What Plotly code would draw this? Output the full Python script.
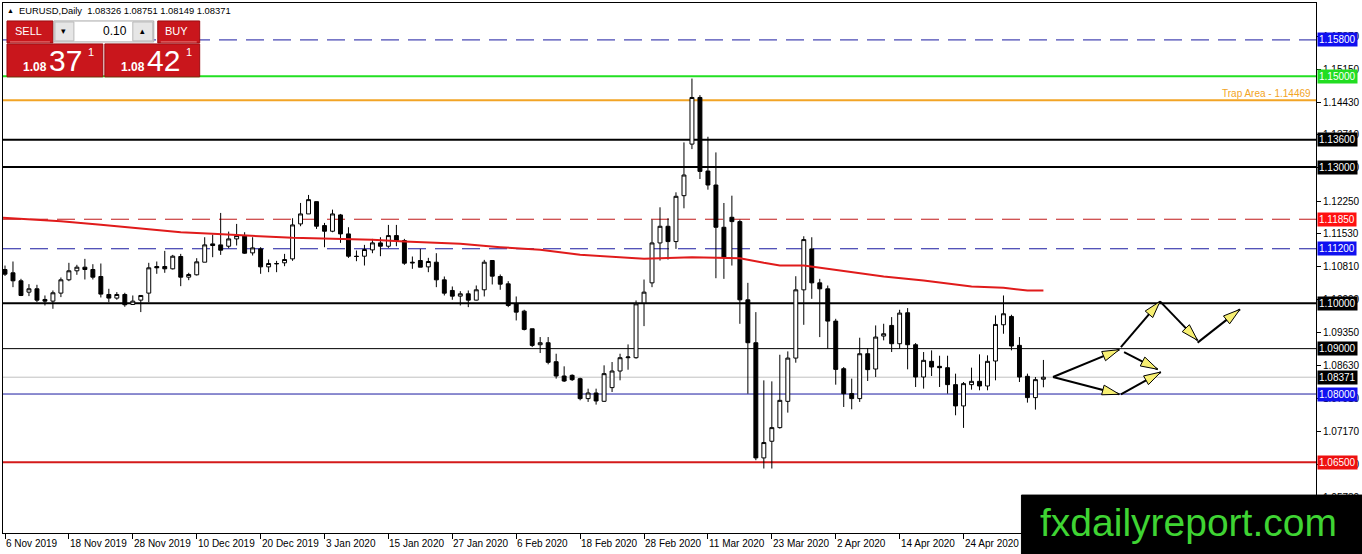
import math
import plotly.graph_objects as go

# EURUSD daily candles, 6 Nov 2019 .. 8 May 2020
open_ = [
    1.10743, 1.10670, 1.10494, 1.10244, 1.10318, 1.10083, 1.10046, 1.10223, 1.10516, 1.10714,
    1.10794, 1.10743, 1.10589, 1.10193, 1.10113, 1.10193, 1.09973, 1.10068, 1.10223, 1.10809,
    1.10809, 1.10758, 1.11029, 1.10574, 1.10626, 1.10904, 1.11307, 1.11285, 1.11256, 1.11417,
    1.11490, 1.11109, 1.11197, 1.10801, 1.10875, 1.10890, 1.10977, 1.11747, 1.11967, 1.12238,
    1.11710, 1.11586, 1.11945, 1.11527, 1.11036, 1.11036, 1.11175, 1.11329, 1.11256, 1.11490,
    1.11381, 1.10904, 1.10941, 1.10801, 1.10904, 1.10515, 1.10281, 1.10156, 1.10208, 1.10068,
    1.10296, 1.10941, 1.10589, 1.10427, 1.09988, 1.09826, 1.09438, 1.09086, 1.09130, 1.08712,
    1.08397, 1.08412, 1.08338, 1.07899, 1.08023, 1.07840, 1.08141, 1.08507, 1.08800, 1.08800,
    1.10009, 1.10449, 1.11328, 1.11695, 1.11358, 1.12369, 1.13505, 1.14532, 1.12912, 1.12604,
    1.11673, 1.11893, 1.11798, 1.10075, 1.09130, 1.06593, 1.06960, 1.07260, 1.07839, 1.08792,
    1.10295, 1.11196, 1.10449, 1.10317, 1.09606, 1.08558, 1.08009, 1.07899, 1.08888, 1.08551,
    1.09277, 1.09511, 1.09108, 1.09790, 1.09086, 1.08375, 1.08720, 1.08610, 1.08580, 1.08207,
    1.07738, 1.08207, 1.08280, 1.08177, 1.08727, 1.09526, 1.09709, 1.09072, 1.08390, 1.07921,
    1.08326]
high = [
    1.10830, 1.10919, 1.10538, 1.10420, 1.10406, 1.10171, 1.10281, 1.10567, 1.10890, 1.10846,
    1.10977, 1.10860, 1.10875, 1.10318, 1.10245, 1.10230, 1.10171, 1.10171, 1.10890, 1.10919,
    1.11153, 1.11065, 1.11087, 1.10670, 1.10992, 1.11454, 1.11512, 1.11989, 1.11578, 1.11747,
    1.11564, 1.11454, 1.11234, 1.10963, 1.10933, 1.11087, 1.11872, 1.12209, 1.12385, 1.12238,
    1.11769, 1.12062, 1.11967, 1.11674, 1.11161, 1.11285, 1.11417, 1.11454, 1.11725, 1.11725,
    1.11417, 1.11029, 1.11197, 1.11000, 1.11102, 1.10589, 1.10369, 1.10266, 1.10281, 1.10391,
    1.10955, 1.10941, 1.10633, 1.10486, 1.10149, 1.09856, 1.09438, 1.09255, 1.09255, 1.08888,
    1.08610, 1.08434, 1.08360, 1.08118, 1.08118, 1.08632, 1.08705, 1.08888, 1.09093, 1.10061,
    1.10522, 1.11841, 1.12113, 1.11871, 1.12443, 1.13542, 1.14949, 1.14583, 1.13667, 1.13322,
    1.12208, 1.12369, 1.11842, 1.10449, 1.09804, 1.08301, 1.08279, 1.08865, 1.08939, 1.10595,
    1.11475, 1.11453, 1.10537, 1.10390, 1.09657, 1.08594, 1.08339, 1.09240, 1.09013, 1.09511,
    1.09548, 1.09695, 1.09856, 1.09893, 1.09123, 1.08925, 1.08962, 1.08844, 1.08844, 1.08449,
    1.08265, 1.08581, 1.08874, 1.08852, 1.09731, 1.10171, 1.09746, 1.09255, 1.08449, 1.08375,
    1.08751]
low = [
    1.10600, 1.10354, 1.10157, 1.10157, 1.10025, 1.09951, 1.09878, 1.10135, 1.10486, 1.10626,
    1.10523, 1.10523, 1.10127, 1.10025, 1.10076, 1.09922, 1.09966, 1.09805, 1.10025, 1.10648,
    1.10670, 1.10743, 1.10376, 1.10508, 1.10611, 1.10904, 1.11014, 1.11065, 1.11212, 1.11271,
    1.11087, 1.11051, 1.10648, 1.10684, 1.10684, 1.10816, 1.10934, 1.11696, 1.11967, 1.11637,
    1.11234, 1.11564, 1.11329, 1.10999, 1.10926, 1.10831, 1.11102, 1.11036, 1.11219, 1.11256,
    1.10846, 1.10758, 1.10794, 1.10684, 1.10354, 1.10171, 1.10076, 1.09951, 1.09914, 1.10061,
    1.10149, 1.10413, 1.10296, 1.09914, 1.09621, 1.09401, 1.09035, 1.08903, 1.08654, 1.08339,
    1.08265, 1.08287, 1.07862, 1.07826, 1.07767, 1.07825, 1.08045, 1.08302, 1.08536, 1.08778,
    1.09496, 1.10354, 1.10940, 1.10962, 1.11197, 1.12091, 1.13395, 1.12736, 1.12501, 1.10551,
    1.10537, 1.10830, 1.09547, 1.08008, 1.06542, 1.06359, 1.06359, 1.07238, 1.07590, 1.08690,
    1.09525, 1.10097, 1.09254, 1.08998, 1.08206, 1.07715, 1.07664, 1.07826, 1.08287, 1.08375,
    1.09182, 1.08925, 1.08998, 1.08544, 1.08155, 1.08119, 1.08397, 1.08155, 1.08009, 1.07532,
    1.07254, 1.08097, 1.08082, 1.08082, 1.08302, 1.09328, 1.08962, 1.08265, 1.07811, 1.07657,
    1.08149]
close = [
    1.10640, 1.10494, 1.10171, 1.10318, 1.10068, 1.10046, 1.10230, 1.10516, 1.10714, 1.10794,
    1.10743, 1.10574, 1.10201, 1.10113, 1.10193, 1.09966, 1.10046, 1.10171, 1.10780, 1.10780,
    1.10758, 1.11036, 1.10574, 1.10633, 1.10912, 1.11285, 1.11271, 1.11168, 1.11417, 1.11490,
    1.11102, 1.11219, 1.10801, 1.10875, 1.10870, 1.10963, 1.11725, 1.11967, 1.12282, 1.11696,
    1.11586, 1.11967, 1.11527, 1.11036, 1.11029, 1.11183, 1.11329, 1.11256, 1.11490, 1.11381,
    1.10882, 1.10890, 1.10794, 1.10919, 1.10515, 1.10222, 1.10156, 1.10208, 1.10068, 1.10296,
    1.10904, 1.10596, 1.10420, 1.09951, 1.09804, 1.09423, 1.09071, 1.09130, 1.08698, 1.08397,
    1.08287, 1.08316, 1.07899, 1.08023, 1.07847, 1.08449, 1.08507, 1.08800, 1.08815, 1.09987,
    1.10244, 1.11328, 1.11695, 1.11358, 1.12355, 1.12824, 1.14532, 1.12904, 1.12604, 1.11673,
    1.11013, 1.11798, 1.10075, 1.09130, 1.06593, 1.06931, 1.07260, 1.07861, 1.08792, 1.10295,
    1.11402, 1.10449, 1.10317, 1.09606, 1.08543, 1.08008, 1.07899, 1.08888, 1.08537, 1.09255,
    1.09328, 1.09108, 1.09783, 1.09086, 1.08375, 1.08742, 1.08595, 1.08580, 1.08207, 1.07738,
    1.08229, 1.08280, 1.08177, 1.08720, 1.09533, 1.09768, 1.09057, 1.08375, 1.07921, 1.08317,
    1.08371]
bars = list(range(len(open_)))

# moving average, sampled along the red line (bar index, price)
ma_idx = [-0.5, 7, 12, 17, 22, 26, 32, 36, 41, 46, 50, 53, 57, 62, 67, 72, 76, 80,
          86, 92, 95, 97, 100, 103, 106, 110, 115, 118, 121, 125, 128, 130]
ma_val = [1.11886, 1.11805, 1.11726, 1.11652, 1.11564, 1.11528, 1.11476, 1.11440,
          1.11418, 1.11396, 1.11359, 1.11343, 1.11308, 1.11234, 1.11176, 1.11066,
          1.11014, 1.10978, 1.11014, 1.10992, 1.10890, 1.10831, 1.10831, 1.10758,
          1.10699, 1.10589, 1.10501, 1.10428, 1.10369, 1.10340, 1.10281, 1.10281]

# x axis labels every 8 bars
tick_idx = [0, 8, 16, 24, 32, 40, 48, 56, 64, 72, 80, 88, 96, 104, 112, 120]
tick_text = ["6 Nov 2019", "18 Nov 2019", "28 Nov 2019", "10 Dec 2019", "20 Dec 2019",
             "3 Jan 2020", "15 Jan 2020", "27 Jan 2020", "6 Feb 2020", "18 Feb 2020",
             "28 Feb 2020", "11 Mar 2020", "23 Mar 2020", "2 Apr 2020", "14 Apr 2020",
             "24 Apr 2020"]

# price scale ticks
price_ticks = [1.15870, 1.15150, 1.14430, 1.13710, 1.12990, 1.12250, 1.11530, 1.10810,
               1.10090, 1.09350, 1.08630, 1.07910, 1.07170, 1.06450, 1.05730]

# horizontal levels: price, line colour, width, dash, label background
levels = [
    (1.15800, "#1a1aa0", 1, "18px,9px", "#1010f0"),
    (1.15000, "#22e022", 2, "solid", "#22dd22"),
    (1.14469, "#f2a425", 2, "solid", None),
    (1.13600, "#000000", 2, "solid", "#000000"),
    (1.13000, "#000000", 2, "solid", "#000000"),
    (1.11850, "#c01818", 1, "18px,9px", "#ff1010"),
    (1.11200, "#1a1aa0", 1, "18px,9px", "#1010f0"),
    (1.10000, "#000000", 2, "solid", "#000000"),
    (1.09000, "#000000", 1, "solid", "#000000"),
    (1.08371, "#c0c0c0", 1, "solid", "#000000"),
    (1.08000, "#1a1aa0", 1, "solid", "#1010f0"),
    (1.06500, "#d41a1a", 2, "solid", "#ee1010"),
]

# scenario arrows drawn on the chart: (bar0, price0, bar1, price1)
arrows = [
    (131.2, 1.08375, 139.5, 1.08978),
    (131.2, 1.08375, 139.5, 1.07995),
    (139.7, 1.09035, 144.6, 1.10040),
    (140.1, 1.08925, 144.3, 1.08545),
    (139.7, 1.07995, 144.7, 1.08485),
    (144.6, 1.10040, 149.3, 1.09182),
    (149.3, 1.09132, 154.6, 1.09864),
]

W, H = 1362, 554
L, R, T, B = 2, 45, 2, 21
YMIN, YMAX = 1.04939, 1.16613
XMIN, XMAX = -0.25, 164.125
PXX = (W - L - R) / (XMAX - XMIN)
PXY = (H - T - B) / (YMAX - YMIN)
FONT = "Liberation Sans"


def px(x):
    return (x - L) / (W - L - R)


def py(y):
    return (H - B - y) / (H - T - B)


fig = go.Figure()
fig.add_trace(go.Candlestick(
    x=bars, open=open_, high=high, low=low, close=close,
    increasing=dict(line=dict(color="black", width=1), fillcolor="white"),
    decreasing=dict(line=dict(color="black", width=1), fillcolor="black"),
    whiskerwidth=0, hoverinfo="skip", showlegend=False))
fig.add_trace(go.Scatter(x=ma_idx, y=ma_val, mode="lines",
                         line=dict(color="#e01b1b", width=2), hoverinfo="skip",
                         showlegend=False))

shapes = []
ann = []
for price, col, w, dash, lab in levels:
    shapes.append(dict(type="line", xref="paper", x0=0, x1=1, yref="y", y0=price, y1=price,
                       line=dict(color=col, width=w, dash=dash), layer="below"))
    if lab:
        ann.append(dict(xref="paper", x=1, xanchor="left", xshift=1, yref="y", y=price,
                        text="%.5f" % price, showarrow=False, bgcolor=lab, borderpad=1,
                        font=dict(family=FONT, size=10, color="white")))

ann.append(dict(xref="paper", x=1, xanchor="right", xshift=-3, yref="y", y=1.14469,
                yanchor="bottom", yshift=-1, text="Trap Area - 1.14469", showarrow=False,
                font=dict(family=FONT, size=10, color="#f2a425")))

for x0, y0, x1, y1 in arrows:
    fig.add_trace(go.Scatter(x=[x0, x1], y=[y0, y1], mode="lines",
                             line=dict(color="black", width=2), hoverinfo="skip",
                             showlegend=False))
    dx = (x1 - x0) * PXX
    dy = (y1 - y0) * PXY
    n = math.hypot(dx, dy)
    ux, uy = dx / n, dy / n
    bx, by = -ux * 17, -uy * 17
    vx, vy = -uy * 5, ux * 5
    pts = [(0, 0), (bx + vx, by + vy), (bx - vx, by - vy)]
    path = "M" + " L".join("%f,%f" % (x1 + a / PXX, y1 + b / PXY) for a, b in pts) + " Z"
    shapes.append(dict(type="path", xref="x", yref="y", path=path, fillcolor="#f7ef72",
                       line=dict(color="black", width=1), layer="above"))

for i, t in zip(tick_idx, tick_text):
    ann.append(dict(xref="x", x=i, xanchor="left", xshift=-1, yref="paper", y=0,
                    yanchor="top", yshift=-3, text=t, showarrow=False,
                    font=dict(family=FONT, size=10, color="black")))

# title line
ann.append(dict(xref="paper", x=px(4), xanchor="left", yref="paper", y=py(10),
                yanchor="middle", text="▲", showarrow=False,
                font=dict(family=FONT, size=7, color="black")))
ann.append(dict(xref="paper", x=px(16), xanchor="left", yref="paper", y=py(10),
                yanchor="middle", text="EURUSD,Daily  1.08326 1.08751 1.08149 1.08371",
                showarrow=False, font=dict(family=FONT, size=9.4, color="black")))

# one-click trading panel
red = "#c9161c"


def rect(x0, y0, x1, y1, fill, line):
    shapes.append(dict(type="rect", xref="paper", yref="paper", x0=px(x0), x1=px(x1),
                       y0=py(y1), y1=py(y0), fillcolor=fill,
                       line=dict(color=line, width=1), layer="above"))


def label(x, y, text, size, color, anchor="center", bold=False):
    if bold:
        text = "<b>" + text + "</b>"
    ann.append(dict(xref="paper", yref="paper", x=px(x), y=py(y), xanchor=anchor,
                    yanchor="middle", text=text, showarrow=False,
                    font=dict(family=FONT, size=size, color=color)))


rect(6, 20, 52, 42, red, "#9a0c10")
rect(53, 20, 153, 41, "white", "#a8a8a8")
rect(54, 21, 73, 40, "#e6e6e6", "#b8b8b8")
rect(132, 21, 152, 40, "#e6e6e6", "#b8b8b8")
rect(157, 20, 199, 42, red, "#9a0c10")
rect(6, 43, 102, 76, red, "#9a0c10")
rect(104, 43, 199, 76, red, "#9a0c10")
shapes.append(dict(type="line", xref="paper", yref="paper", x0=px(9), x1=px(49),
                   y0=py(41), y1=py(41), line=dict(color="#e88080", width=1), layer="above"))
shapes.append(dict(type="line", xref="paper", yref="paper", x0=px(160), x1=px(196),
                   y0=py(41), y1=py(41), line=dict(color="#e88080", width=1), layer="above"))
label(28, 30, "SELL", 11, "white")
label(176, 30, "BUY", 11, "white")
label(63, 30, "▾", 9, "black")
label(142, 30, "▴", 9, "black")
label(128, 30, "0.10", 12, "black", anchor="right")
label(20, 66, "1.08", 12, "white", anchor="left", bold=True)
label(46, 60, "37", 30, "white", anchor="left")
label(85, 51, "1", 11, "white", anchor="left")
label(118, 66, "1.08", 12, "white", anchor="left", bold=True)
label(144, 60, "42", 30, "white", anchor="left")
label(183, 51, "1", 11, "white", anchor="left")

# watermark
rect(1022, 495, 1364, 556, "black", "black")
label(1189, 522, "fxdailyreport.com", 39, "#3fd433")

fig.update_layout(
    width=W, height=H, margin=dict(l=L, r=R, t=T, b=B),
    paper_bgcolor="white", plot_bgcolor="white",
    shapes=shapes, annotations=ann, showlegend=False,
    font=dict(family=FONT, size=10, color="black"),
    xaxis=dict(range=[XMIN, XMAX], tickvals=tick_idx, showticklabels=False,
               ticks="outside", ticklen=5, tickcolor="black", showgrid=False,
               zeroline=False, showline=True, linecolor="black", linewidth=1,
               mirror=True, rangeslider=dict(visible=False), fixedrange=True),
    yaxis=dict(range=[YMIN, YMAX], side="right", tickvals=price_ticks,
               ticktext=["%.5f" % v for v in price_ticks], ticks="outside", ticklen=4,
               tickcolor="black", showgrid=False, zeroline=False, showline=True,
               linecolor="black", linewidth=1, mirror=True,
               tickfont=dict(family=FONT, size=10, color="black"), fixedrange=True),
)

fig.write_html("out.html", config={"displayModeBar": False},
               post_script="document.body.style.margin='0';document.body.style.overflow='hidden';")
